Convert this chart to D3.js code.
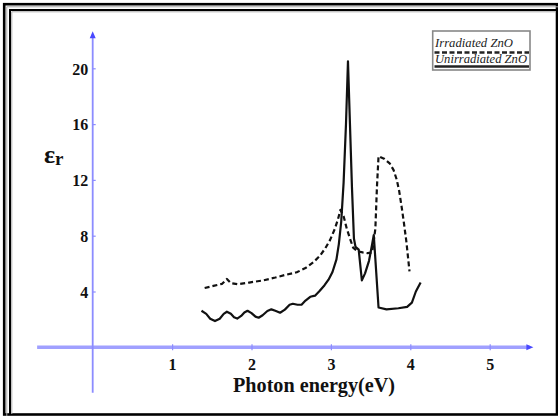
<!DOCTYPE html>
<html><head><meta charset="utf-8">
<script src="https://cdn.jsdelivr.net/npm/d3@7"></script>
<style>html,body{margin:0;padding:0;background:#fff;}svg{display:block;}</style>
</head><body>
<script>
// ---- data ----
const unirradiatedX = [1.37,1.43,1.48,1.54,1.60,1.65,1.69,1.74,1.78,1.82,1.87,1.91,1.95,2.00,2.05,2.09,2.14,2.20,2.25,2.30,2.36,2.42,2.48,2.52,2.58,2.63,2.68,2.74,2.80,2.86,2.92,2.97,3.02,3.07,3.10,3.13,3.16,3.19,3.215,3.24,3.265,3.29,3.31,3.35,3.39,3.43,3.48,3.52,3.54,3.60,3.70,3.85,3.96,4.02,4.07,4.13];
const unirradiatedY = [2.62,2.40,2.05,1.88,2.05,2.40,2.55,2.40,2.15,2.06,2.25,2.50,2.62,2.45,2.20,2.12,2.30,2.60,2.72,2.62,2.48,2.70,3.05,3.12,3.05,3.05,3.35,3.62,3.70,4.05,4.45,4.85,5.40,6.30,7.40,9.00,11.80,16.00,20.50,16.00,11.50,7.80,7.20,7.00,4.80,5.30,6.20,7.40,8.05,2.85,2.72,2.80,2.90,3.20,4.00,4.65];
const irradiatedX = [1.41,1.52,1.63,1.69,1.74,1.83,1.97,2.15,2.30,2.42,2.57,2.68,2.78,2.86,2.93,2.99,3.05,3.09,3.12,3.16,3.20,3.24,3.28,3.33,3.40,3.46,3.52,3.56,3.58,3.60,3.67,3.74,3.79,3.83,3.86,3.89,3.92,3.95,3.99];
const irradiatedY = [4.25,4.40,4.55,4.90,4.60,4.52,4.64,4.80,5.00,5.18,5.38,5.68,6.10,6.55,7.10,7.70,8.50,9.20,9.85,9.40,8.50,7.80,7.15,6.90,6.80,6.75,6.80,8.50,11.50,13.70,13.52,13.19,12.70,12.00,11.20,10.10,8.90,7.60,5.45];
const xTicks = [1,2,3,4,5];
const yTicks = [4,8,12,16,20];
const legendLabels = ["Irradiated ZnO","Unirradiated ZnO"];
const xTitle = "Photon energy(eV)";

const W = 558, H = 416;
const svg = d3.select("body").append("svg").attr("width", W).attr("height", H);

// frame
svg.append("rect").attr("x",0).attr("y",0).attr("width",W).attr("height",H).attr("fill","#fff");
svg.append("rect").attr("x",4.2).attr("y",4.2).attr("width",552.8).attr("height",410.3)
  .attr("fill","none").attr("stroke","#000").attr("stroke-width",2.6);
svg.append("path").attr("d","M6.8,416V6.8H558").attr("fill","none").attr("stroke","#aaa").attr("stroke-width",1);
svg.append("path").attr("d","M10,414V10H556").attr("fill","none").attr("stroke","#000").attr("stroke-width",2);
svg.append("path").attr("d","M11.8,414V11.8H556").attr("fill","none").attr("stroke","#aaa").attr("stroke-width",1);

const x = d3.scaleLinear().domain([0,5]).range([92.7, 489.7]);
const y = d3.scaleLinear().domain([0,20]).range([347.3, 68.3]);

const axisBlue = "#8c8cff";
// axis lines
svg.append("line").attr("x1", x(-0.70)).attr("x2", x(5.5)).attr("y1", y(0)).attr("y2", y(0))
  .attr("stroke", "#a0a0ff").attr("stroke-width", 3.5);
svg.append("line").attr("x1", x(0)).attr("x2", x(0)).attr("y1", y(-3.25)).attr("y2", y(22.4))
  .attr("stroke", axisBlue).attr("stroke-width", 1.8);
// arrows
svg.append("path").attr("d", `M${x(5.55)},${y(0)} l-7,-3 v6 z`).attr("fill","#4848ff");
svg.append("path").attr("d", `M${x(0)},${y(22.65)} l-3,7 h6 z`).attr("fill","#4848ff");

const tickFont = "'Liberation Serif','Times New Roman','DejaVu Serif',serif";
const gx = svg.append("g").attr("transform", `translate(0,${y(0)})`)
  .call(d3.axisBottom(x).tickValues(xTicks).tickFormat(d3.format("d")).tickSizeInner(3).tickSizeOuter(0).tickPadding(8));
const gy = svg.append("g").attr("transform", `translate(${x(0)},0)`)
  .call(d3.axisLeft(y).tickValues(yTicks).tickFormat(d3.format("d")).tickSizeInner(3).tickSizeOuter(0).tickPadding(1.5));
[gx, gy].forEach(g => {
  g.select(".domain").remove();
  g.selectAll(".tick line").attr("stroke", axisBlue).attr("stroke-width", 1.2);
  g.selectAll(".tick text").attr("font-family", tickFont).attr("font-weight","bold")
    .attr("font-size", 16).attr("fill", "#111");
});
gx.selectAll(".tick line").attr("y1", -3);
gy.selectAll(".tick line").attr("x2", 3);
gy.selectAll(".tick text").attr("dy", "0.36em");

// titles
svg.append("text").attr("x", 314).attr("y", 391.5).attr("text-anchor","middle")
  .attr("font-family", tickFont).attr("font-weight","bold").attr("font-size", 21)
  .attr("textLength", 162).attr("lengthAdjust","spacingAndGlyphs").attr("fill","#111").text(xTitle);
const yl = svg.append("text").attr("x", 44).attr("y", 163).attr("font-family", tickFont)
  .attr("font-weight","bold").attr("fill","#111");
yl.append("tspan").attr("font-size", 26).text("ε");
yl.append("tspan").attr("font-size", 19).attr("dy", 2).text("r");

// curves
const line = d3.line().x(d => x(d[0])).y(d => y(d[1])).curve(d3.curveLinear);
const un = unirradiatedX.map((v,i) => [v, unirradiatedY[i]]);
const ir = irradiatedX.map((v,i) => [v, irradiatedY[i]]);
svg.append("path").datum(ir).attr("d", line).attr("fill","none").attr("stroke","#111")
  .attr("stroke-width", 2.2).attr("stroke-dasharray","5,3").attr("stroke-linejoin","round");
svg.append("path").datum(un).attr("d", line).attr("fill","none").attr("stroke","#111")
  .attr("stroke-width", 2.2).attr("stroke-linejoin","round");

// legend
const lg = svg.append("g");
lg.append("rect").attr("x", 432.7).attr("y", 31).attr("width", 97.3).attr("height", 39)
  .attr("fill","#fff").attr("stroke","#888").attr("stroke-width", 1.6);
lg.append("text").attr("x", 435).attr("y", 46.5).attr("font-family", tickFont).attr("font-style","italic")
  .attr("font-size", 13).attr("textLength", 78).attr("lengthAdjust","spacingAndGlyphs").attr("fill","#222").text(legendLabels[0]);
lg.append("line").attr("x1", 434.5).attr("x2", 529).attr("y1", 52.5).attr("y2", 52.5)
  .attr("stroke","#222").attr("stroke-width", 2.6).attr("stroke-dasharray","5,2.5");
lg.append("text").attr("x", 435).attr("y", 62.5).attr("font-family", tickFont).attr("font-style","italic")
  .attr("font-size", 13).attr("textLength", 92).attr("lengthAdjust","spacingAndGlyphs").attr("fill","#222").text(legendLabels[1]);
lg.append("line").attr("x1", 434.5).attr("x2", 529).attr("y1", 66.5).attr("y2", 66.5)
  .attr("stroke","#222").attr("stroke-width", 2.6);
</script>
</body></html>
